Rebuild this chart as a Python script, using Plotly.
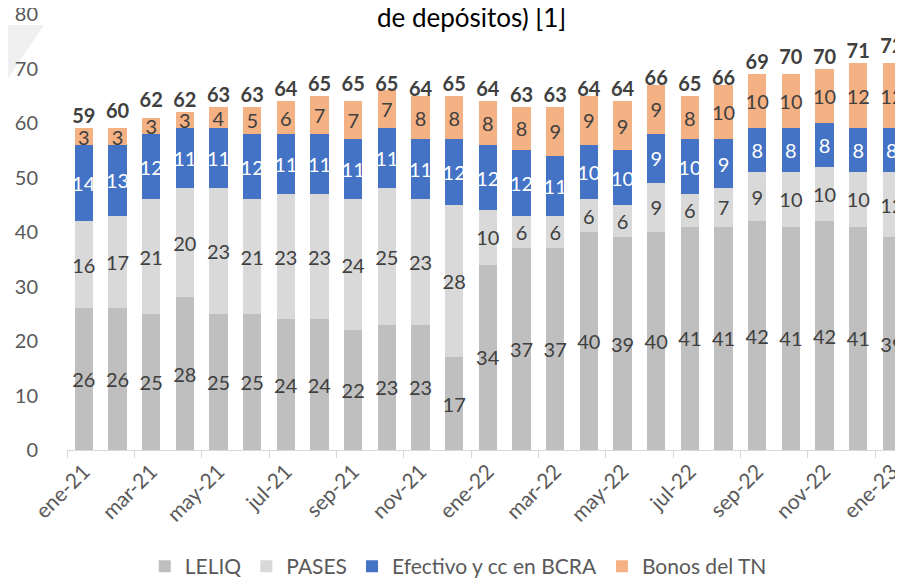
import plotly.graph_objects as go

months = [
    "ene-21", "feb-21", "mar-21", "abr-21", "may-21", "jun-21", "jul-21",
    "ago-21", "sep-21", "oct-21", "nov-21", "dic-21", "ene-22", "feb-22",
    "mar-22", "abr-22", "may-22", "jun-22", "jul-22", "ago-22", "sep-22",
    "oct-22", "nov-22", "dic-22", "ene-23",
]
leliq = [26, 26, 25, 28, 25, 25, 24, 24, 22, 23, 23, 17, 34, 37, 37, 40, 39,
         40, 41, 41, 42, 41, 42, 41, 39]
pases = [16, 17, 21, 20, 23, 21, 23, 23, 24, 25, 23, 28, 10, 6, 6, 6, 6, 9,
         6, 7, 9, 10, 10, 10, 12]
efectivo = [14, 13, 12, 11, 11, 12, 11, 11, 11, 11, 11, 12, 12, 12, 11, 10,
            10, 9, 10, 9, 8, 8, 8, 8, 8]
bonos = [3, 3, 3, 3, 4, 5, 6, 7, 7, 7, 8, 8, 8, 8, 9, 9, 9, 9, 8, 10, 10, 10,
         10, 12, 12]
totales = [59, 60, 62, 62, 63, 63, 64, 65, 65, 65, 64, 65, 64, 63, 63, 64, 64,
           66, 65, 66, 69, 70, 70, 71, 72]

FONT = "Lato"
x = list(range(len(months)))

fig = go.Figure()

series = [
    ("LELIQ", leliq, "#BFBFBF", "#404040"),
    ("PASES", pases, "#D9D9D9", "#404040"),
    ("Efectivo y cc en BCRA", efectivo, "#4472C4", "white"),
    ("Bonos del TN", bonos, "#F4B183", "#404040"),
]
for name, vals, color, txtcolor in series:
    fig.add_trace(go.Bar(
        x=x, y=vals, name=name,
        marker=dict(color=color, line=dict(width=0)),
        text=[str(v) for v in vals],
        textposition="inside", insidetextanchor="middle", textangle=0,
        textfont=dict(family=FONT, size=20, color=txtcolor),
        cliponaxis=False,
    ))

# totals above each bar
fig.add_trace(go.Scatter(
    x=x, y=totales, mode="text",
    text=["<b>%d</b>" % t for t in totales],
    textposition="top center",
    textfont=dict(family=FONT, size=20, color="#404040"),
    showlegend=False, cliponaxis=False, hoverinfo="skip",
))

# light grey decoration in the top-left corner
fig.add_shape(
    type="path", xref="paper", yref="paper", layer="below",
    path="M -0.08,0.975 L -0.0275,0.975 L -0.0801,0.825 Z",
    fillcolor="#F0F0F0", line=dict(width=0),
)

fig.add_annotation(
    text="de depósitos) [1]", xref="paper", yref="paper",
    x=0.484, y=0.992, xanchor="center", yanchor="middle", showarrow=False,
    font=dict(family=FONT, size=26, color="black", weight="normal"),
)

# the page body adds an 8px offset, so the figure is sized to fit the window
fig.update_layout(
    barmode="stack",
    bargap=0.455,
    width=895, height=579,
    margin=dict(l=59, r=0, t=6, b=133),
    paper_bgcolor="white", plot_bgcolor="white",
    font=dict(family=FONT, size=19, color="#595959"),
    uniformtext=dict(minsize=20, mode="show"),
    legend=dict(
        orientation="h", x=0.468, xanchor="center", y=-0.268,
        yanchor="middle", font=dict(family=FONT, size=21, color="#595959"),
        traceorder="normal", itemwidth=30,
    ),
    showlegend=True,
)
fig.update_xaxes(
    range=[-0.5, 24.33], automargin=False,
    tickvals=x[::2], ticktext=months[::2], tickangle=-45,
    ticks="", showline=True, linecolor="#D9D9D9", linewidth=1,
    showgrid=False, zeroline=False,
    minor=dict(tickvals=[v - 0.5 for v in x[::2]], ticks="outside",
               ticklen=7, tickcolor="#D9D9D9"),
    tickfont=dict(family=FONT, size=21, color="#595959"),
)
fig.update_yaxes(
    range=[0, 80], dtick=10, showgrid=False, zeroline=False,
    showline=False, ticks="", ticklabelstandoff=28, automargin=False,
    ticklabeloverflow="allow",
    tickfont=dict(family=FONT, size=20, color="#595959"),
)

fig.write_html("out.html")
